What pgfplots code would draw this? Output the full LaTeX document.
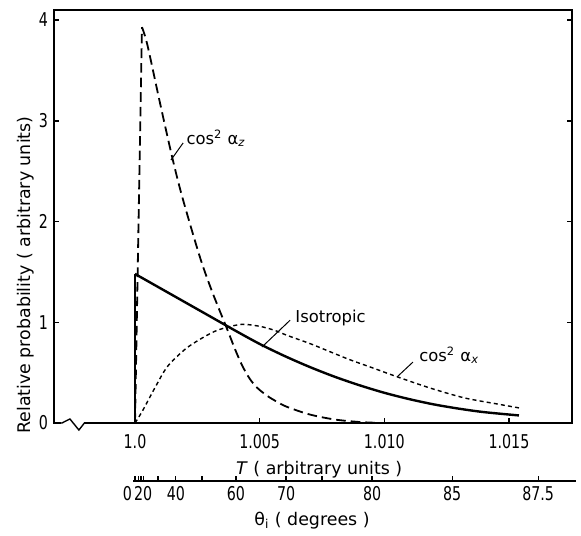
\documentclass[border=0pt]{standalone}
\usepackage{pgfplots}
\pgfplotsset{compat=1.18}
\usepackage{fontspec}
\setmainfont{DejaVu Sans}
\newfontfamily\tickfont{DejaVu Sans}[FakeStretch=0.75]
\begin{document}
\begin{tikzpicture}[font=\fontsize{8.2}{9.8}\selectfont]
\path (-27pt,-52.5pt) rectangle (263.5pt,211.5pt);
\begin{axis}[
  name=main, at={(0,0)}, anchor=south west,
  scale only axis, width=259pt, height=206.5pt,
  xmin=-3.249, xmax=17.529, ymin=0, ymax=4.10,
  xtick={0,5,10,15}, xticklabels={1.0,1.005,1.010,1.015},
  ytick={0,1,2,3,4},
  xtick pos=left, ytick pos=both,
  tick align=inside, major tick length=2.5pt,
  axis line style={line width=0.8pt},
  tick style={line width=0.7pt, black},
  /pgf/number format/assume math mode=true,
  tick label style={font=\tickfont\fontsize{9.5}{10}\selectfont},
  xticklabel style={yshift=-2pt},
  yticklabel style={xshift=0.5pt},
  xlabel={\textit{T} ( arbitrary units )},
  xlabel style={font=\fontsize{8.7}{10}\selectfont, at={(ticklabel cs:0.512)}, yshift=0.5pt},
  ylabel={Relative probability ( arbitrary units)},
  ylabel style={font=\fontsize{8.7}{10}\selectfont, at={(ticklabel cs:0.358)}, yshift=-4.5pt},
  clip=false,
]
% Isotropic (solid)
\addplot[black, line width=1.2pt] coordinates {(0,0) (0,1.48)};
\addplot[black, line width=1.2pt, smooth, tension=0.5] coordinates {
(0,1.48) (1.0,1.34) (2.0,1.20) (3.0,1.06) (4.0,0.92) (5.0,0.785) (6.0,0.665)
(7.0,0.557) (8.0,0.46) (9.0,0.375) (10.0,0.30) (11.0,0.237) (12.0,0.184)
(13.0,0.142) (14.0,0.108) (15.4,0.075)};
% cos^2 alpha_z (long dashes)
\addplot[black, line width=0.9pt, dash pattern=on 4.8pt off 2.5pt] coordinates {(0,0) (0.28,3.93)};
\addplot[black, line width=0.9pt, dash pattern=on 4.8pt off 2.5pt, smooth, tension=0.5] coordinates {
(0.28,3.93) (0.5,3.75) (1.0,3.18) (1.5,2.63) (1.9,2.24) (2.6,1.65) (3.1,1.30)
(3.7,0.93) (4.0,0.74) (4.3,0.57) (4.6,0.44) (4.9,0.35) (5.3,0.27) (5.7,0.21)
(6.1,0.16) (7.0,0.085) (8.0,0.035) (9.0,0.01) (9.9,0.0)};
% cos^2 alpha_x (short dashes)
\addplot[black, line width=0.7pt, dash pattern=on 2pt off 1.6pt, smooth, tension=0.5] coordinates {
(0,0) (0.3,0.12) (0.8,0.35) (1.3,0.56) (2.0,0.73) (2.6,0.83) (3.2,0.91)
(3.7,0.95) (4.3,0.98) (5.0,0.96) (5.6,0.92) (6.1,0.87) (7.0,0.79) (7.8,0.71)
(8.6,0.63) (9.5,0.55) (10.5,0.46) (11.8,0.35) (13.2,0.25) (14.5,0.19) (15.4,0.15)};
% labels
\draw[line width=0.5pt] (axis cs:1.44,2.61) -- (axis cs:1.93,2.78);
\node[anchor=west, inner sep=1pt] at (axis cs:1.97,2.83) {cos\textsuperscript{2} α\textsubscript{\textit{z}}};
\draw[line width=0.5pt] (axis cs:5.09,0.754) -- (axis cs:6.22,1.02);
\node[anchor=west, inner sep=1pt] at (axis cs:6.34,1.04) {Isotropic};
\draw[line width=0.5pt] (axis cs:10.51,0.457) -- (axis cs:11.15,0.605);
\node[anchor=west, inner sep=1pt] at (axis cs:11.31,0.67) {cos\textsuperscript{2} α\textsubscript{\textit{x}}};
% axis break
\fill[white] (axis cs:-2.97,-0.025) rectangle (axis cs:-2.03,0.025);
\draw[line width=0.7pt] (axis cs:-3.0,0) -- (axis cs:-2.93,0) -- (axis cs:-2.61,0.04) -- (axis cs:-2.25,-0.07) -- (axis cs:-2.03,0) -- (axis cs:-1.98,0);
\end{axis}
\begin{axis}[
  at={(39.5pt,-29pt)}, anchor=south west,
  scale only axis, width=221.5pt, height=10pt,
  xmin=-0.08, xmax=17.69, ymin=0, ymax=1,
  axis x line*=bottom, axis y line=none,
  axis line style={line width=0.7pt},
  tick style={line width=0.6pt, black},
  tick align=inside, major tick length=2.5pt,
  xtick={0,0.33,1.64,4.05,6.06,9.51,12.72,16.17},
  xticklabels={\makebox[0pt][r]{0\hspace{1.5pt}},20,40,60,70,80,85,87.5},
  extra x ticks={0.13,0.24,0.92,2.69,7.50},
  extra x tick labels={},
  extra x tick style={tick style={line width=0.6pt, black}},
  tick label style={font=\tickfont\fontsize{9.5}{10}\selectfont},
  xticklabel style={yshift=1pt},
  xlabel={θ\textsubscript{i} ( degrees )},
  xlabel style={font=\fontsize{8.7}{10}\selectfont, at={(ticklabel cs:0.404)}, yshift=1pt},
]
\end{axis}
\end{tikzpicture}
\end{document}
